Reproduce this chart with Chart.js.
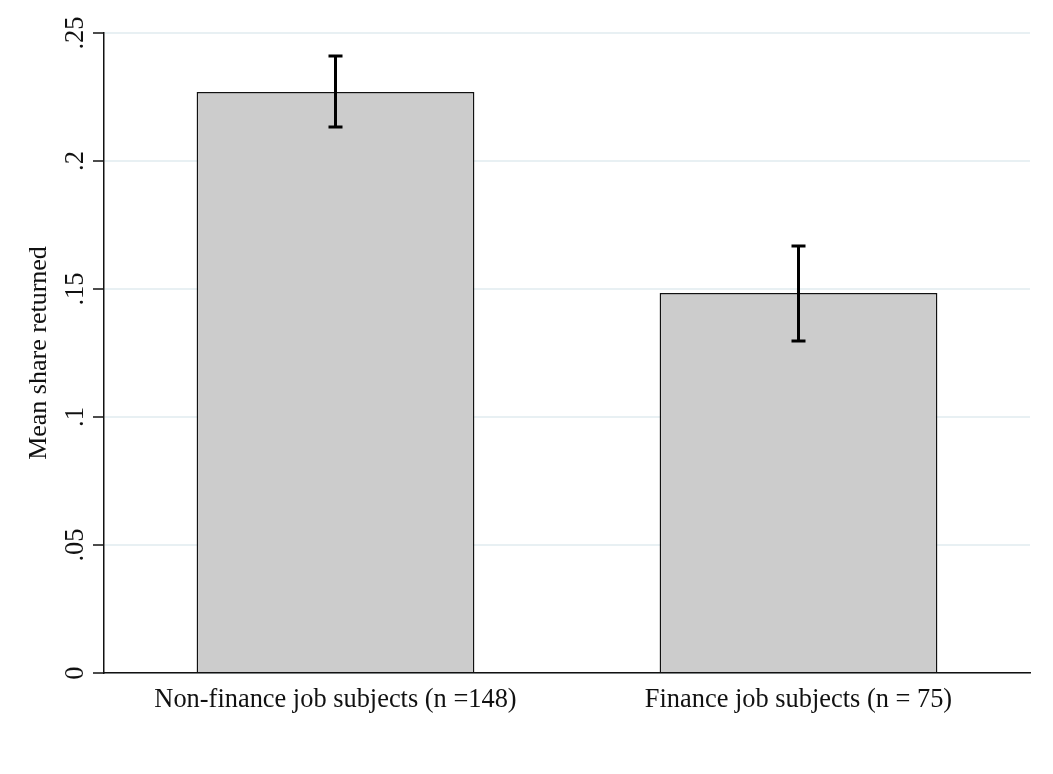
<!DOCTYPE html>
<html>
<head>
<meta charset="utf-8">
<script src="https://cdn.jsdelivr.net/npm/chart.js@4.4.1/dist/chart.umd.min.js"></script>
<style>
  html, body { margin: 0; padding: 0; background: #ffffff; }
  #wrap { width: 1053px; height: 774px; position: relative; }
</style>
</head>
<body>
<div id="wrap"><canvas id="chart" width="1053" height="774"></canvas></div>
<script>
// Group labels and mean share returned, with 95% confidence bounds
const categories = ['Non-finance job subjects (n =148)', 'Finance job subjects (n = 75)'];
const meanShare = [0.227, 0.1484];
const ciLow = [0.2133, 0.1297];
const ciHigh = [0.2410, 0.1668];
const yTickValues = [0, 0.05, 0.1, 0.15, 0.2, 0.25];
const yTickLabels = ['0', '.05', '.1', '.15', '.2', '.25'];

const SERIF = '"Liberation Serif", "Times New Roman", serif';

// Vertical (rotated) y tick labels, placed at the y scale's tick positions
const rotatedYTicks = {
  id: 'rotatedYTicks',
  afterDraw(chart) {
    const y = chart.scales.y;
    const ctx = chart.ctx;
    ctx.save();
    ctx.fillStyle = '#111';
    ctx.font = '26.5px ' + SERIF;
    ctx.textAlign = 'center';
    ctx.textBaseline = 'alphabetic';
    yTickValues.forEach((v, i) => {
      const py = y.getPixelForValue(v);
      ctx.save();
      ctx.translate(y.right - 21, py);
      ctx.rotate(-Math.PI / 2);
      ctx.fillText(yTickLabels[i], 0, 0);
      ctx.restore();
    });
    ctx.restore();
  }
};

// Capped error bars from ciLow to ciHigh at each bar's centre
const errorBars = {
  id: 'errorBars',
  afterDatasetsDraw(chart) {
    const y = chart.scales.y;
    const meta = chart.getDatasetMeta(0);
    const ctx = chart.ctx;
    ctx.save();
    ctx.strokeStyle = '#000';
    ctx.lineWidth = 3;
    ctx.lineCap = 'butt';
    meta.data.forEach((bar, i) => {
      const x = bar.x;
      const yHi = y.getPixelForValue(ciHigh[i]);
      const yLo = y.getPixelForValue(ciLow[i]);
      const half = 7;
      ctx.beginPath();
      ctx.moveTo(x, yHi);
      ctx.lineTo(x, yLo);
      ctx.moveTo(x - half, yHi);
      ctx.lineTo(x + half, yHi);
      ctx.moveTo(x - half, yLo);
      ctx.lineTo(x + half, yLo);
      ctx.stroke();
    });
    ctx.restore();
  }
};

const whiteBg = {
  id: 'whiteBg',
  beforeDraw(chart) {
    const ctx = chart.ctx;
    ctx.save();
    ctx.fillStyle = '#ffffff';
    ctx.fillRect(0, 0, chart.width, chart.height);
    ctx.restore();
  }
};

new Chart(document.getElementById('chart'), {
  type: 'bar',
  data: {
    labels: categories,
    datasets: [{
      data: meanShare,
      backgroundColor: '#cccccc',
      borderColor: '#111111',
      borderWidth: 1.5,
      barPercentage: 0.6,
      categoryPercentage: 1.0
    }]
  },
  options: {
    responsive: false,
    animation: false,
    devicePixelRatio: 1,
    layout: { padding: { top: 33, right: 23, left: 0, bottom: 0 } },
    plugins: {
      legend: { display: false },
      tooltip: { enabled: false }
    },
    scales: {
      x: {
        type: 'category',
        offset: true,
        grid: { display: false, drawTicks: false },
        border: { display: true, color: '#111', width: 1.5 },
        ticks: {
          color: '#111',
          font: { family: SERIF, size: 26.4 },
          padding: 11,
          maxRotation: 0,
          minRotation: 0
        },
        afterFit(scale) { scale.height = 101; }
      },
      y: {
        min: 0,
        max: 0.25,
        afterBuildTicks(scale) {
          scale.ticks = yTickValues.map(v => ({ value: v }));
        },
        grid: {
          color: '#e8f0f3',
          lineWidth: 2,
          drawTicks: true,
          tickLength: 11,
          tickColor: '#111',
          tickWidth: 1.5
        },
        border: { display: true, color: '#111', width: 1.5 },
        ticks: { display: false },
        title: {
          display: true,
          text: 'Mean share returned',
          color: '#111',
          font: { family: SERIF, size: 26 },
          padding: { top: 24, bottom: 0 }
        },
        afterFit(scale) { scale.width = 104; }
      }
    }
  },
  plugins: [whiteBg, rotatedYTicks, errorBars]
});
</script>
</body>
</html>
